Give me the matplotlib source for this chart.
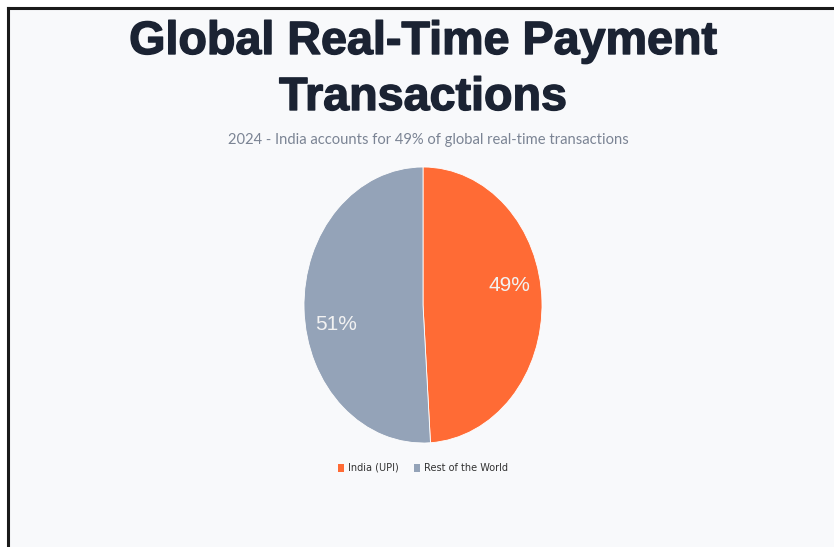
import matplotlib
matplotlib.use("Agg")
import numpy as np
import matplotlib.pyplot as plt
import matplotlib.patheffects as pe
from matplotlib.patches import Rectangle, Patch
from matplotlib.lines import Line2D

# Data
TITLE_LINES = ["Global Real-Time Payment", "Transactions"]
SUBTITLE = "2024 - India accounts for 49% of global real-time transactions"
labels = ["India (UPI)", "Rest of the World"]
shares = [49, 51]
colors = ["#ff6b35", "#94a3b8"]

W, H = 834, 547
fig = plt.figure(figsize=(W / 100, H / 100), dpi=100, facecolor="white")

# Panel background and the frame lines on top/left
fig.patches.append(Rectangle((9 / W, 0), 1 - 9 / W, 1 - 9 / H, transform=fig.transFigure,
                             facecolor="#f8f9fb", edgecolor="none", zorder=-5))
fig.add_artist(Line2D([8 / W, 1], [1 - 8 / H, 1 - 8 / H], color="#1a1a1a", lw=2.2))
fig.add_artist(Line2D([8 / W, 8 / W], [0, 1 - 8 / H], color="#1a1a1a", lw=2.2))

# Title + subtitle (light stroke makes the bold look a bit heavier, like the original)
for txt, base in zip(TITLE_LINES, [54, 110]):
    fig.text(0.507, 1 - base / H, txt, ha="center", va="baseline",
             fontsize=33.6, fontweight="bold", color="#1b2333", family="Liberation Sans",
             path_effects=[pe.withStroke(linewidth=1.0, foreground="#1b2333")])
fig.text(0.514, 1 - 140 / H, SUBTITLE, ha="center", va="center",
         fontsize=10.6, color="#7b8494", family="Lato")

# Pie (stretched into an ellipse)
ax = fig.add_axes([304 / W, 1 - 443 / H, 238 / W, 276 / H])
wedges, texts, autotexts = ax.pie(
    shares, colors=colors, startangle=90, counterclock=False,
    autopct="%d%%", pctdistance=0.74,
    wedgeprops=dict(edgecolor="white", linewidth=0.6),
    textprops=dict(color="#f2f2f2", fontsize=15, family="Liberation Sans"),
)
# labels in the original sit a little rotated counter-clockwise from mid-angle
for t in autotexts:
    x, y = t.get_position()
    a = np.deg2rad(9)
    t.set_position((x * np.cos(a) - y * np.sin(a), x * np.sin(a) + y * np.cos(a)))
ax.set_aspect("auto")
ax.set_xlim(-1, 1)
ax.set_ylim(-1, 1)
ax.axis("off")

# Legend
handles = [Patch(facecolor=c, edgecolor="none") for c in colors]
fig.legend(handles, labels, loc="center", bbox_to_anchor=(0.507, 1 - 468 / H),
           ncol=2, frameon=False, fontsize=7, handlelength=0.6, handleheight=0.9,
           handletextpad=0.4, columnspacing=1.6, labelcolor="#333333")

fig.savefig("out.png", dpi=100, facecolor="white")
